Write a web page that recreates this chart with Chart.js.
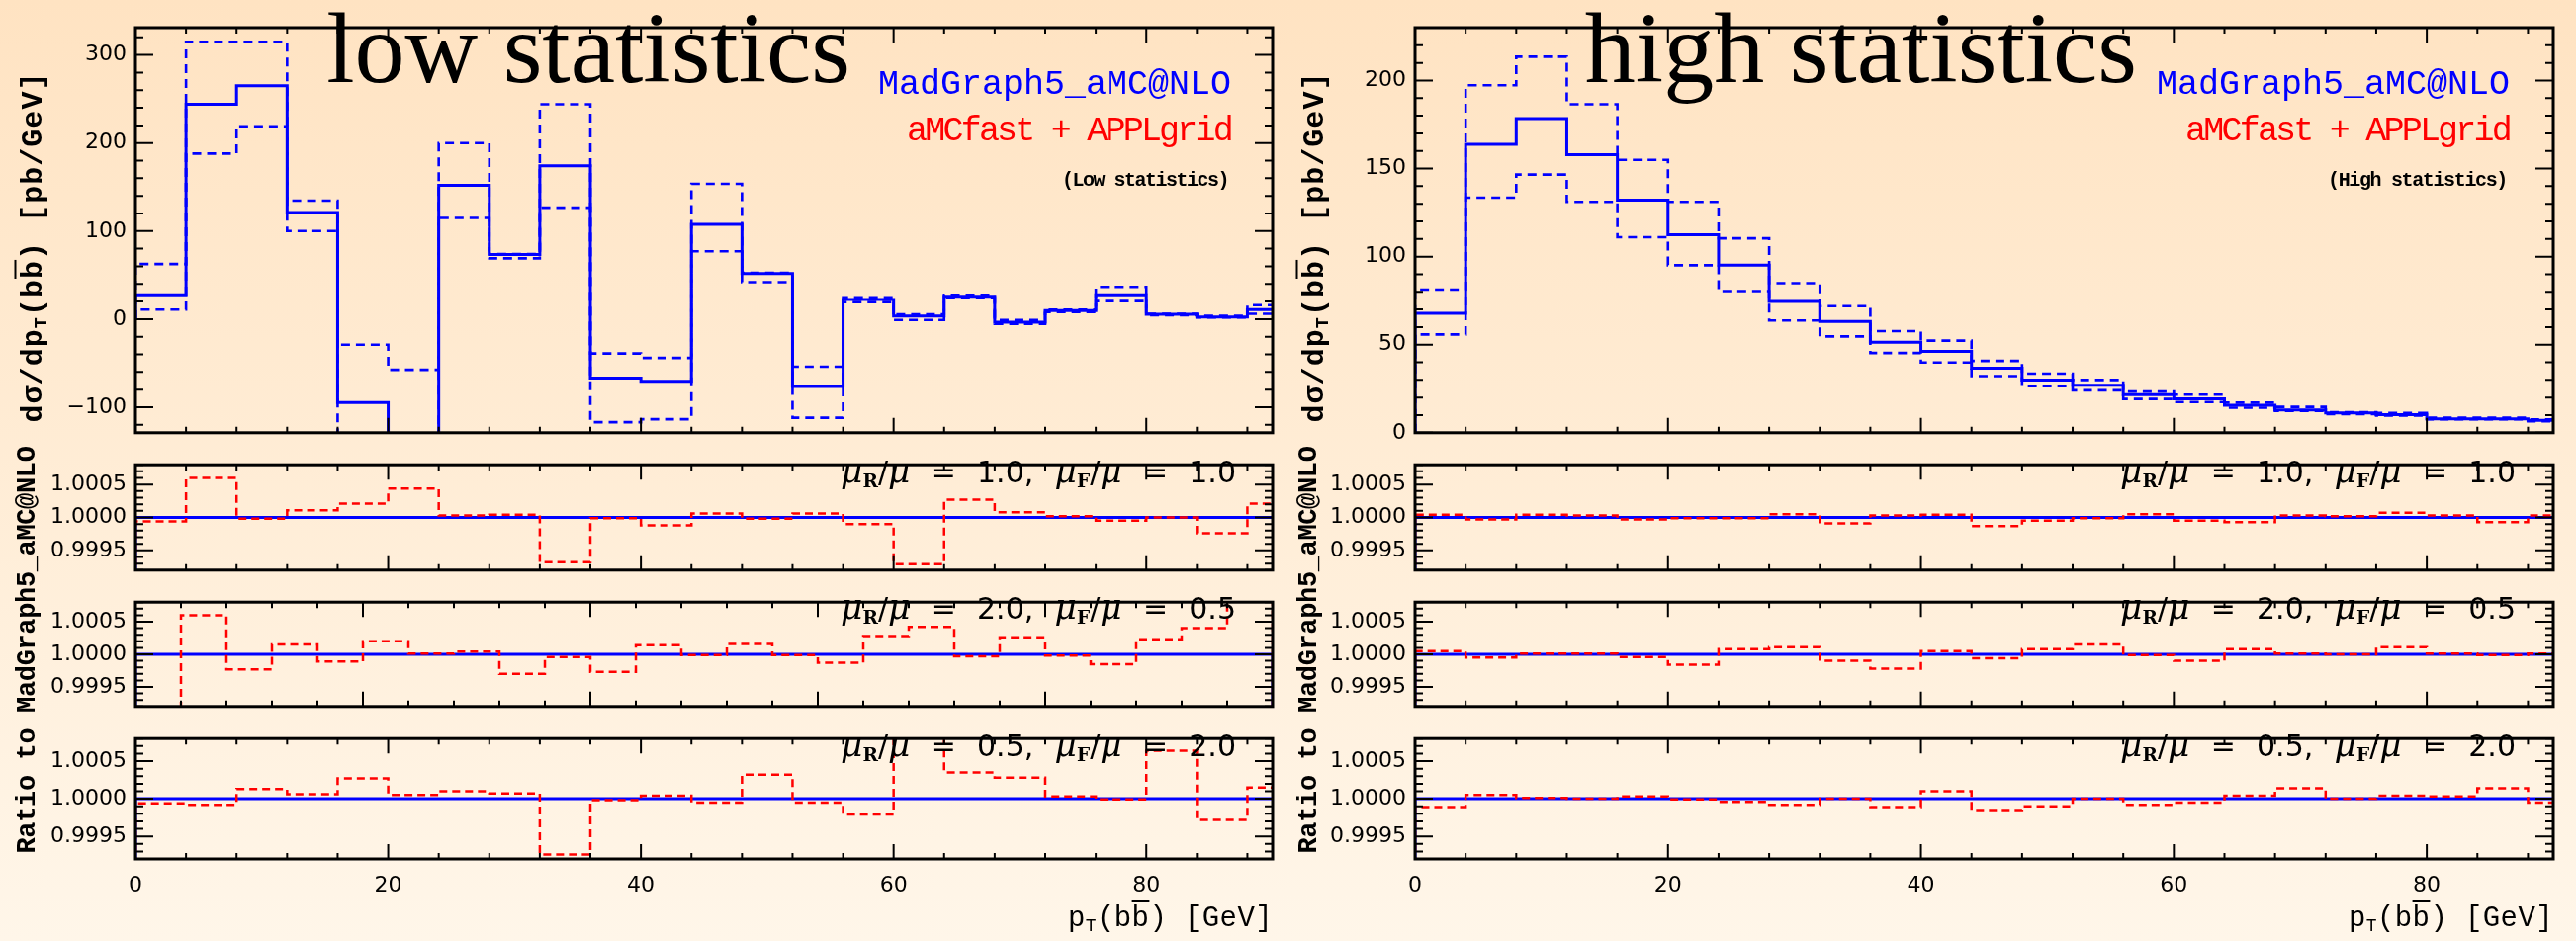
<!DOCTYPE html>
<html>
<head>
<meta charset="utf-8">
<script src="https://cdn.jsdelivr.net/npm/chart.js@4.4.1/dist/chart.umd.min.js"></script>
<style>
  html, body { margin: 0; padding: 0; }
  body {
    width: 2605px; height: 952px; overflow: hidden; position: relative;
    background: linear-gradient(to bottom, #ffe3c2 0%, #fff6e9 100%);
  }
  canvas { position: absolute; }
  .lbl { position: absolute; white-space: nowrap; line-height: 1; }
  .lbl .bl { display: inline-block; width: 0; height: 0; vertical-align: baseline; }
  .lbl sub { font-size: 0.62em; vertical-align: -0.28em; line-height: 0; }
  .ob { text-decoration: overline; text-decoration-thickness: 2px; }
  .mu { font-family: "DejaVu Serif"; font-style: italic; font-size: 1.15em; }
  .sb { font-family: "DejaVu Serif"; font-weight: bold; }
</style>
</head>
<body>
<script>
// bin edges (pT in GeV)
const xEdges = [0, 4, 8, 12, 16, 20, 24, 28, 32, 36, 40, 44, 48, 52, 56, 60, 64, 68, 72, 76, 80, 84, 88, 92];
// the middle ratio panel of the low-statistics plot runs 0..100
const xEdgesWide = [0, 4, 8, 12, 16, 20, 24, 28, 32, 36, 40, 44, 48, 52, 56, 60, 64, 68, 72, 76, 80, 84, 88, 92, 96, 100];

// low statistics, dsigma/dpT [pb/GeV]
const lowCentral = [27.7, 244, 265, 121, -94.6, -180, 152, 73.4, 174, -67, -70.5, 107.5, 51.8, -76.6, 22.3, 3.6, 26, -3.6, 9.7, 27.7, 5.4, 2.5, 10.8];
const lowUpper   = [62.6, 315, 315, 134.5, -29, -57.5, 200, 74, 244, -39, -44, 153.6, 52.5, -54, 24.8, 5.4, 27.7, -1, 10.8, 36.7, 6.1, 3.6, 15.8];
const lowLower   = [10.8, 188, 219, 100, -160, -300, 115, 69, 126.6, -117, -113.7, 77, 42, -112, 19.4, -1, 24, -5.4, 8, 20.5, 4.3, 1.8, 6.1];

// high statistics
const highCentral = [67.8, 163.8, 178.4, 157.9, 132, 112.4, 95.1, 74.6, 63.1, 51.4, 46.2, 36.7, 29.9, 27, 21.6, 19.2, 15.6, 12.9, 11.2, 10.3, 7.9, 7.9, 7.0];
const highUpper   = [81.3, 197.3, 213.5, 186.5, 154.9, 131.1, 110.4, 84.9, 71.9, 57.7, 52.3, 40.8, 33.6, 30, 23.4, 21.6, 17.1, 14.7, 11.7, 11.2, 8.5, 8.5, 7.6];
const highLower   = [55.8, 133.5, 146.6, 131.1, 111, 95.1, 80.4, 63.7, 54.7, 45.3, 39.9, 32.2, 26.4, 24.1, 19.2, 17.4, 14.2, 12.4, 10.6, 9.7, 7.6, 7.6, 6.5];

// ratios aMCfast+APPLgrid / MadGraph5_aMC@NLO
const lowRatio11 = [0.99994, 1.00060, 0.99998, 1.00011, 1.00021, 1.00044, 1.00003, 1.00004, 0.99932, 0.99999, 0.99988, 1.00006, 0.99998, 1.00006, 0.99990, 0.99929, 1.00027, 1.00008, 1.00002, 0.99995, 1.00000, 0.99976, 1.00021];
const lowRatio21 = [0.99880, 1.00060, 0.99977, 1.00015, 0.99989, 1.00020, 1.00001, 1.00004, 0.99970, 0.99996, 0.99973, 1.00014, 0.99999, 1.00016, 0.99999, 0.99987, 1.00028, 1.00042, 0.99997, 1.00026, 0.99998, 0.99985, 1.00023, 1.00040, 1.00120];
const lowRatio12 = [0.99994, 0.99992, 1.00013, 1.00006, 1.00027, 1.00005, 1.00010, 1.00007, 0.99926, 0.99998, 1.00004, 0.99995, 1.00032, 0.99995, 0.99979, 1.00120, 1.00035, 1.00028, 1.00003, 0.99999, 1.00064, 0.99972, 1.00015];
const highRatio11 = [1.00004, 0.99997, 1.00004, 1.00003, 0.99997, 0.99999, 0.99999, 1.00005, 0.99991, 1.00003, 1.00004, 0.99987, 0.99995, 0.99999, 1.00005, 0.99995, 0.99993, 1.00003, 1.00002, 1.00007, 1.00003, 0.99993, 1.00003];
const highRatio21 = [1.00005, 0.99995, 1.00001, 1.00001, 0.99996, 0.99984, 1.00008, 1.00011, 0.99990, 0.99978, 1.00005, 0.99994, 1.00008, 1.00015, 0.99999, 0.99990, 1.00008, 1.00001, 1.00000, 1.00011, 1.00001, 0.99999, 1.00001];
const highRatio12 = [0.99989, 1.00005, 1.00001, 1.00000, 1.00003, 0.99999, 0.99996, 0.99992, 1.00000, 0.99989, 1.00010, 0.99985, 0.99990, 1.00000, 0.99992, 0.99995, 1.00004, 1.00014, 1.00000, 1.00004, 1.00003, 1.00014, 0.99995];
const refRatio = 1;

const scaleLabels = ['\u03bc<sub class="sb">R</sub>/\u03bc = 1.0, \u03bc<sub class="sb">F</sub>/\u03bc = 1.0',
                     '\u03bc<sub class="sb">R</sub>/\u03bc = 2.0, \u03bc<sub class="sb">F</sub>/\u03bc = 0.5',
                     '\u03bc<sub class="sb">R</sub>/\u03bc = 0.5, \u03bc<sub class="sb">F</sub>/\u03bc = 2.0'];

Chart.defaults.font.family = "'DejaVu Sans', sans-serif";
Chart.defaults.color = '#000';

// panel geometry
const COLS = {
  low:  { x0: 0,    w: 1300, left: 137,  right: 1287 },
  high: { x0: 1300, w: 1305, left: 1431, right: 2582 }
};
const ROWS = [
  { top: 28,  bottom: 454 },
  { top: 454, bottom: 593 },
  { top: 593, bottom: 731 },
  { top: 731, bottom: 869 }
];

// step histogram starting and ending at a base value
function histPoints(edges, vals, base) {
  const pts = [{ x: edges[0], y: base }];
  vals.forEach((v, i) => pts.push({ x: edges[i], y: v }));
  pts.push({ x: edges[vals.length], y: base });
  return pts;
}

function stepSet(pts, color, width, dash) {
  return {
    data: pts, borderColor: color, borderWidth: width, borderDash: dash || [],
    stepped: true, pointRadius: 0, fill: false, tension: 0
  };
}

// frame with inward ticks on all four sides
const framePlugin = {
  id: 'frame',
  afterDraw(chart, args, o) {
    const { ctx, chartArea: a } = chart;
    const xs = chart.scales.x, ys = chart.scales.y;
    ctx.save();
    ctx.strokeStyle = '#000';
    ctx.lineWidth = 2;
    ctx.beginPath();
    let k = Math.round(o.xMajor / o.xMinor);
    for (let i = Math.ceil(xs.min / o.xMinor - 1e-9); i * o.xMinor <= xs.max + 1e-9; i++) {
      const px = xs.getPixelForValue(i * o.xMinor);
      const len = i % k === 0 ? 15 : 6;
      ctx.moveTo(px, a.bottom); ctx.lineTo(px, a.bottom - len);
      ctx.moveTo(px, a.top); ctx.lineTo(px, a.top + len);
    }
    k = Math.round(o.yMajor / o.yMinor);
    for (let i = Math.ceil(ys.min / o.yMinor - 1e-6); i * o.yMinor <= ys.max + 1e-9; i++) {
      const py = ys.getPixelForValue(i * o.yMinor);
      const len = i % k === 0 ? 18 : 8;
      ctx.moveTo(a.left, py); ctx.lineTo(a.left + len, py);
      ctx.moveTo(a.right, py); ctx.lineTo(a.right - len, py);
    }
    ctx.stroke();
    ctx.lineWidth = 3;
    ctx.strokeRect(a.left, a.top, a.right - a.left, a.bottom - a.top);
    ctx.restore();
  }
};

function makePanel(colKey, row, cfg) {
  const C = COLS[colKey], R = ROWS[row];
  const pad = 6;
  const isBottom = row === 3;
  const cTop = row === 0 ? 0 : R.top - pad;
  const cBottom = isBottom ? 952 : R.bottom + pad;
  const canvas = document.createElement('canvas');
  canvas.width = C.w;
  canvas.height = cBottom - cTop;
  canvas.style.left = C.x0 + 'px';
  canvas.style.top = cTop + 'px';
  document.body.appendChild(canvas);

  new Chart(canvas, {
    type: 'line',
    data: { datasets: cfg.datasets },
    options: {
      responsive: false, animation: false, devicePixelRatio: 1,
      layout: {
        autoPadding: false,
        padding: { top: R.top - cTop, bottom: isBottom ? 0 : cBottom - R.bottom, left: 0, right: C.x0 + C.w - C.right }
      },
      plugins: {
        legend: { display: false }, tooltip: { enabled: false },
        frame: { xMinor: 4, xMajor: 20, yMinor: cfg.yMinor, yMajor: cfg.yMajor }
      },
      scales: {
        x: {
          type: 'linear', min: 0, max: cfg.xMax || 90, display: isBottom,
          grid: { display: false, drawTicks: false }, border: { display: false },
          ticks: { stepSize: 20, includeBounds: false, padding: 14, font: { size: 22 }, maxRotation: 0, autoSkip: false },
          afterFit: s => { s.height = isBottom ? 952 - R.bottom : 0; }
        },
        y: {
          type: 'linear', min: cfg.yMin, max: cfg.yMax, position: 'left',
          grid: { display: false, drawTicks: false }, border: { display: false },
          ticks: { stepSize: cfg.yMajor, includeBounds: false, padding: 9, font: { size: 22 }, callback: cfg.fmt },
          afterFit: s => { s.width = C.left - C.x0; }
        }
      }
    },
    plugins: [framePlugin]
  });
}

const fmtMain = v => (v < 0 ? '\u2212' + Math.abs(v) : String(v));
const fmtRatio = v => v.toFixed(4);

function mainPanel(colKey, central, upper, lower, yMin, yMax, yMajor, yMinor) {
  makePanel(colKey, 0, {
    yMin, yMax, yMajor, yMinor, fmt: fmtMain,
    datasets: [
      stepSet(histPoints(xEdges, central, 0), '#0000ff', 3),
      stepSet(histPoints(xEdges, upper, 0), '#0000ff', 2.6, [9, 6]),
      stepSet(histPoints(xEdges, lower, 0), '#0000ff', 2.6, [9, 6])
    ]
  });
}

function ratioPanel(colKey, row, ratio, edges) {
  makePanel(colKey, row, {
    yMin: 0.9992, yMax: 1.0008, yMajor: 0.0005, yMinor: 0.0001, fmt: fmtRatio,
    xMax: edges[edges.length - 1] > 92 ? 100 : 90,
    datasets: [
      stepSet(histPoints(edges, ratio, 0), '#ff0000', 2.5, [8, 5]),
      stepSet([{ x: 0, y: 0 }, { x: 0, y: refRatio }, { x: edges[edges.length - 1], y: refRatio }, { x: edges[edges.length - 1], y: 0 }], '#0000ff', 3)
    ]
  });
}

mainPanel('low', lowCentral, lowUpper, lowLower, -129, 331, 100, 20);
ratioPanel('low', 1, lowRatio11, xEdges);
ratioPanel('low', 2, lowRatio21, xEdgesWide);
ratioPanel('low', 3, lowRatio12, xEdges);

mainPanel('high', highCentral, highUpper, highLower, 0, 230, 50, 10);
ratioPanel('high', 1, highRatio11, xEdges);
ratioPanel('high', 2, highRatio21, xEdges);
ratioPanel('high', 3, highRatio12, xEdges);

// ---- text ----
function addLabel(html, o) {
  const el = document.createElement('div');
  el.className = 'lbl';
  el.style.fontFamily = o.family;
  el.style.fontSize = o.size + 'px';
  if (o.weight) el.style.fontWeight = o.weight;
  el.style.color = o.color || '#000';
  el.innerHTML = html + '<span class="bl"></span>';
  el.style.left = '0px';
  el.style.top = '0px';
  document.body.appendChild(el);
  if (o.fit) {
    const w0 = el.getBoundingClientRect().width;
    const txt = el.textContent;
    if (o.wordFit) {
      const nsp = (txt.match(/ /g) || []).length;
      el.style.wordSpacing = ((o.fit - w0) / nsp) + 'px';
    } else {
      el.style.letterSpacing = ((o.fit - w0) / txt.length) + 'px';
    }
  }
  const r = el.getBoundingClientRect();
  if (o.rotate) {
    el.style.left = (o.x - r.width / 2) + 'px';
    el.style.top = (o.y - r.height / 2) + 'px';
    el.style.transformOrigin = 'center center';
    el.style.transform = 'rotate(-90deg)';
    return;
  }
  const base = el.querySelector('.bl').getBoundingClientRect().bottom - r.top;
  let left = o.x;
  if (o.align === 'right') left = o.x - r.width;
  else if (o.align === 'center') left = o.x - r.width / 2;
  el.style.left = left + 'px';
  el.style.top = (o.y - base) + 'px';
}

const serif = "'Liberation Serif', 'Times New Roman', serif";
const mono = "'Liberation Mono', 'DejaVu Sans Mono', monospace";
const sans = "'DejaVu Sans', sans-serif";
const yTitleMain = 'd\u03c3/dp<sub>T</sub>(b<span class="ob">b</span>) [pb/GeV]';
const yTitleRatio = 'Ratio to MadGraph5_aMC@NLO';
const xTitle = 'p<sub>T</sub>(b<span class="ob">b</span>) [GeV]';

[
  { key: 'low',  title: 'low statistics',  titleRight: 860,  note: '(Low statistics)',  noteW: 168, txtRight: 1245, muRight: 1250, yt: 33,   rt: 28 },
  { key: 'high', title: 'high statistics', titleRight: 2161, note: '(High statistics)', noteW: 181, txtRight: 2538, muRight: 2544, yt: 1329, rt: 1324 }
].forEach(c => {
  const C = COLS[c.key];
  addLabel(c.title, { family: serif, size: 102, x: c.titleRight, y: 83, align: 'right' });
  addLabel('MadGraph5_aMC@NLO', { family: mono, size: 35, color: '#0000ff', x: c.txtRight, y: 95, align: 'right', fit: 357 });
  addLabel('aMCfast + APPLgrid', { family: mono, size: 35, color: '#ff0000', x: c.txtRight, y: 142, align: 'right', fit: 328 });
  addLabel(c.note, { family: mono, size: 20, weight: 'bold', x: c.txtRight - 3, y: 188, align: 'right', fit: c.noteW });
  [488, 626, 765].forEach((yb, i) => {
    addLabel(scaleLabels[i].replace(/\u03bc/g, '<span class="mu">\u03bc</span>'),
      { family: sans, size: 30, x: c.muRight, y: yb, align: 'right', fit: 400, wordFit: true });
  });
  addLabel(yTitleMain, { family: mono, size: 30, weight: 'bold', x: c.yt, y: 250, rotate: true, fit: 355 });
  addLabel(yTitleRatio, { family: mono, size: 27, weight: 'bold', x: c.rt, y: 657, rotate: true, fit: 412 });
  addLabel(xTitle, { family: mono, size: 29, x: C.right, y: 937, align: 'right', fit: 207 });
});
</script>
</body>
</html>
